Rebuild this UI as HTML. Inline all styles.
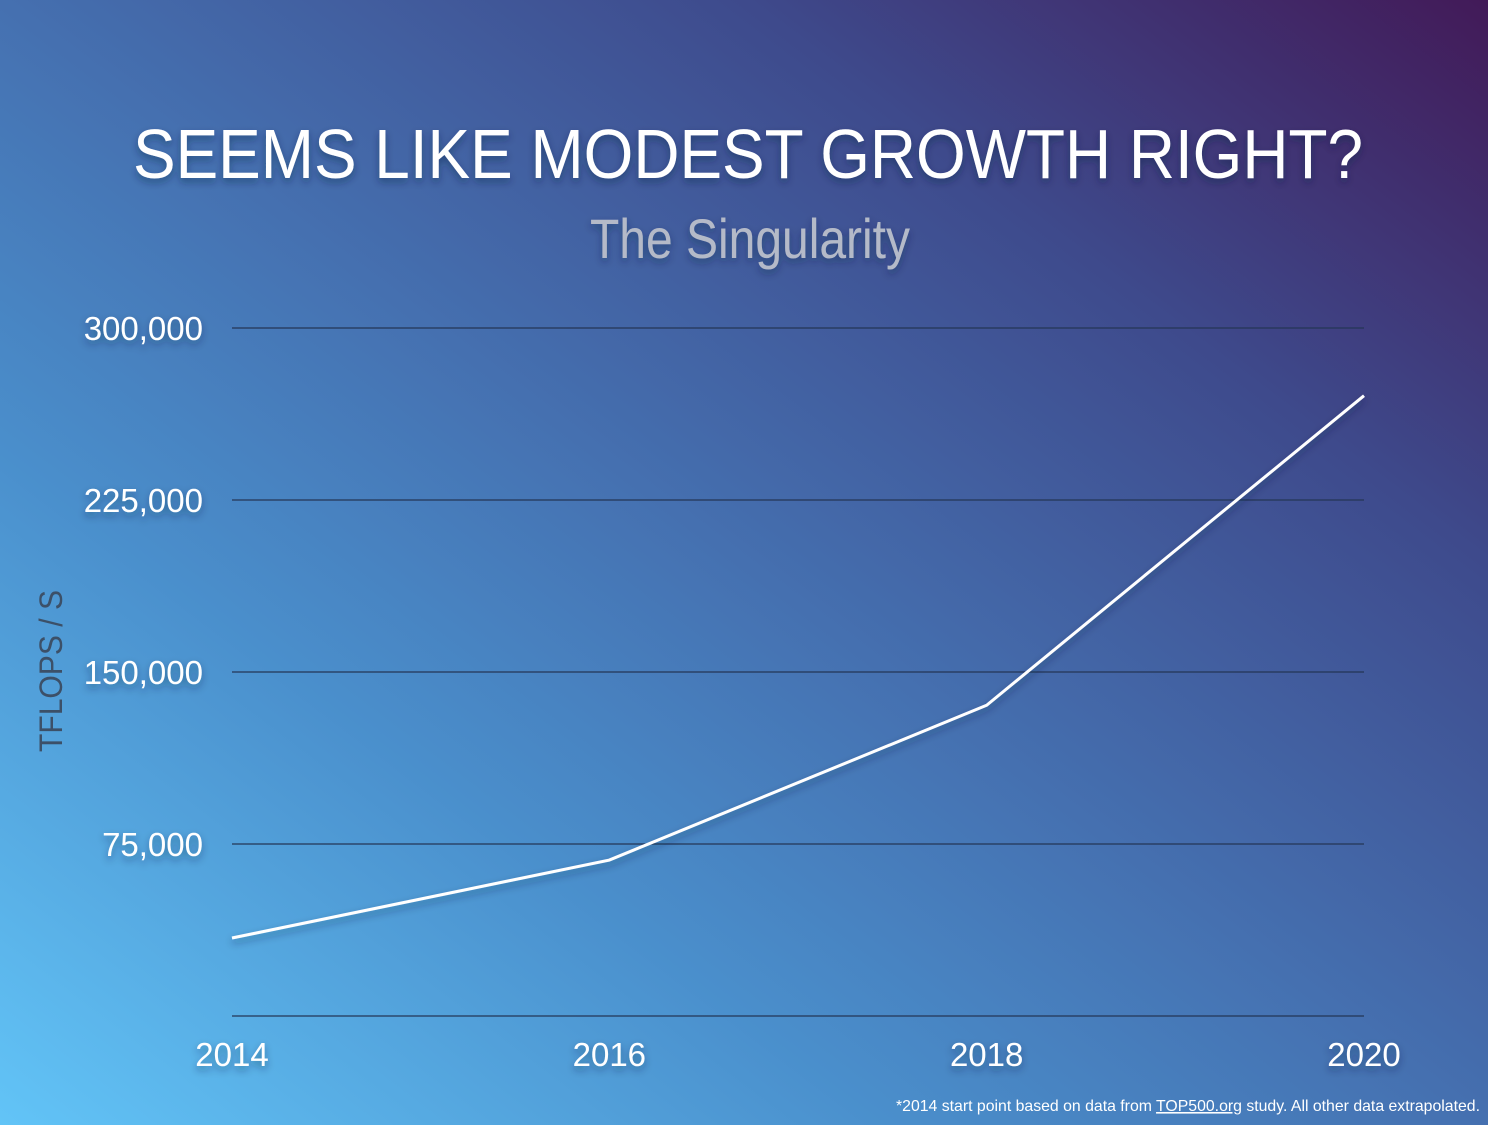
<!DOCTYPE html>
<html><head><meta charset="utf-8"><style>
html,body{margin:0;padding:0;width:1488px;height:1125px;overflow:hidden}
body{background:linear-gradient(to top right,#62c4f7 0%,#4a8fcc 30%,#4570b0 50%,#3e4a8c 75%,#421a58 100%);font-family:"Liberation Sans",sans-serif}
svg{position:absolute;left:0;top:0}
text{font-family:"Liberation Sans",sans-serif}
</style></head><body>
<svg id="chart" width="1488" height="1125" viewBox="0 0 1488 1125">
<defs><filter id="sh" x="-10%" y="-30%" width="120%" height="160%"><feDropShadow dx="0" dy="4" stdDeviation="4" flood-color="#102040" flood-opacity="0.45"/></filter></defs>
<text x="748" y="178" text-anchor="middle" font-size="70" fill="#fff" textLength="1230" lengthAdjust="spacingAndGlyphs" filter="url(#sh)">SEEMS LIKE MODEST GROWTH RIGHT?</text>
<text x="750" y="258" text-anchor="middle" font-size="56" fill="#b4bac8" textLength="320" lengthAdjust="spacingAndGlyphs" filter="url(#sh)">The Singularity</text>
<text transform="translate(62,671) rotate(-90)" text-anchor="middle" font-size="32" fill="#3c5068" textLength="162" lengthAdjust="spacingAndGlyphs">TFLOPS / S</text>
<g id="grid"></g><g id="ylabels"></g><g id="xlabels"></g><g id="series"></g>
<text x="1480" y="1111" text-anchor="end" font-size="16" fill="#ffffff" textLength="584" lengthAdjust="spacingAndGlyphs">*2014 start point based on data from <tspan text-decoration="underline">TOP500.org</tspan> study. All other data extrapolated.</text>
</svg>
<script>
const years = [2014, 2016, 2018, 2020];
const tflops = [34000, 68000, 135500, 270500];
const yTicks = [0, 75000, 150000, 225000, 300000];
const yTickLabels = ["", "75,000", "150,000", "225,000", "300,000"];
const NS = "http://www.w3.org/2000/svg";
const x0 = 232, x1 = 1364, yTop = 328, yBot = 1016;
function xs(v){ return x0 + (v - years[0]) / (years[years.length-1] - years[0]) * (x1 - x0); }
function ys(v){ return yBot - v / 300000 * (yBot - yTop); }
const grid = document.getElementById('grid'), yl = document.getElementById('ylabels'), xl = document.getElementById('xlabels'), ser = document.getElementById('series');
yTicks.forEach((t, i) => {
  const l = document.createElementNS(NS, 'line');
  
  
  l.setAttribute('x1', x0); l.setAttribute('x2', x1);
  l.setAttribute('y1', ys(t)); l.setAttribute('y2', ys(t));
  l.setAttribute('stroke', '#243656'); l.setAttribute('stroke-width', '1.3');
  grid.appendChild(l);
  if (yTickLabels[i]) {
    const tx = document.createElementNS(NS, 'text');
    
    
    tx.setAttribute('x', 203); tx.setAttribute('y', ys(t) + 12);
    tx.setAttribute('text-anchor', 'end'); tx.setAttribute('font-size', '33');
    tx.setAttribute('fill', '#fff'); tx.setAttribute('filter', 'url(#sh)');
    tx.textContent = yTickLabels[i];
    yl.appendChild(tx);
  }
});
years.forEach(y => {
  const tx = document.createElementNS(NS, 'text');
  
  
  tx.setAttribute('x', xs(y)); tx.setAttribute('y', 1066);
  tx.setAttribute('text-anchor', 'middle'); tx.setAttribute('font-size', '33');
  tx.setAttribute('fill', '#fff'); tx.setAttribute('filter', 'url(#sh)');
  tx.textContent = String(y);
  xl.appendChild(tx);
});
const p = document.createElementNS(NS, 'polyline');


p.setAttribute('points', years.map((y, i) => xs(y) + ',' + ys(tflops[i])).join(' '));
p.setAttribute('fill', 'none'); p.setAttribute('stroke', '#fff'); p.setAttribute('stroke-width', '3');
p.setAttribute('filter', 'url(#sh)');
ser.appendChild(p);
</script>
</body></html>
